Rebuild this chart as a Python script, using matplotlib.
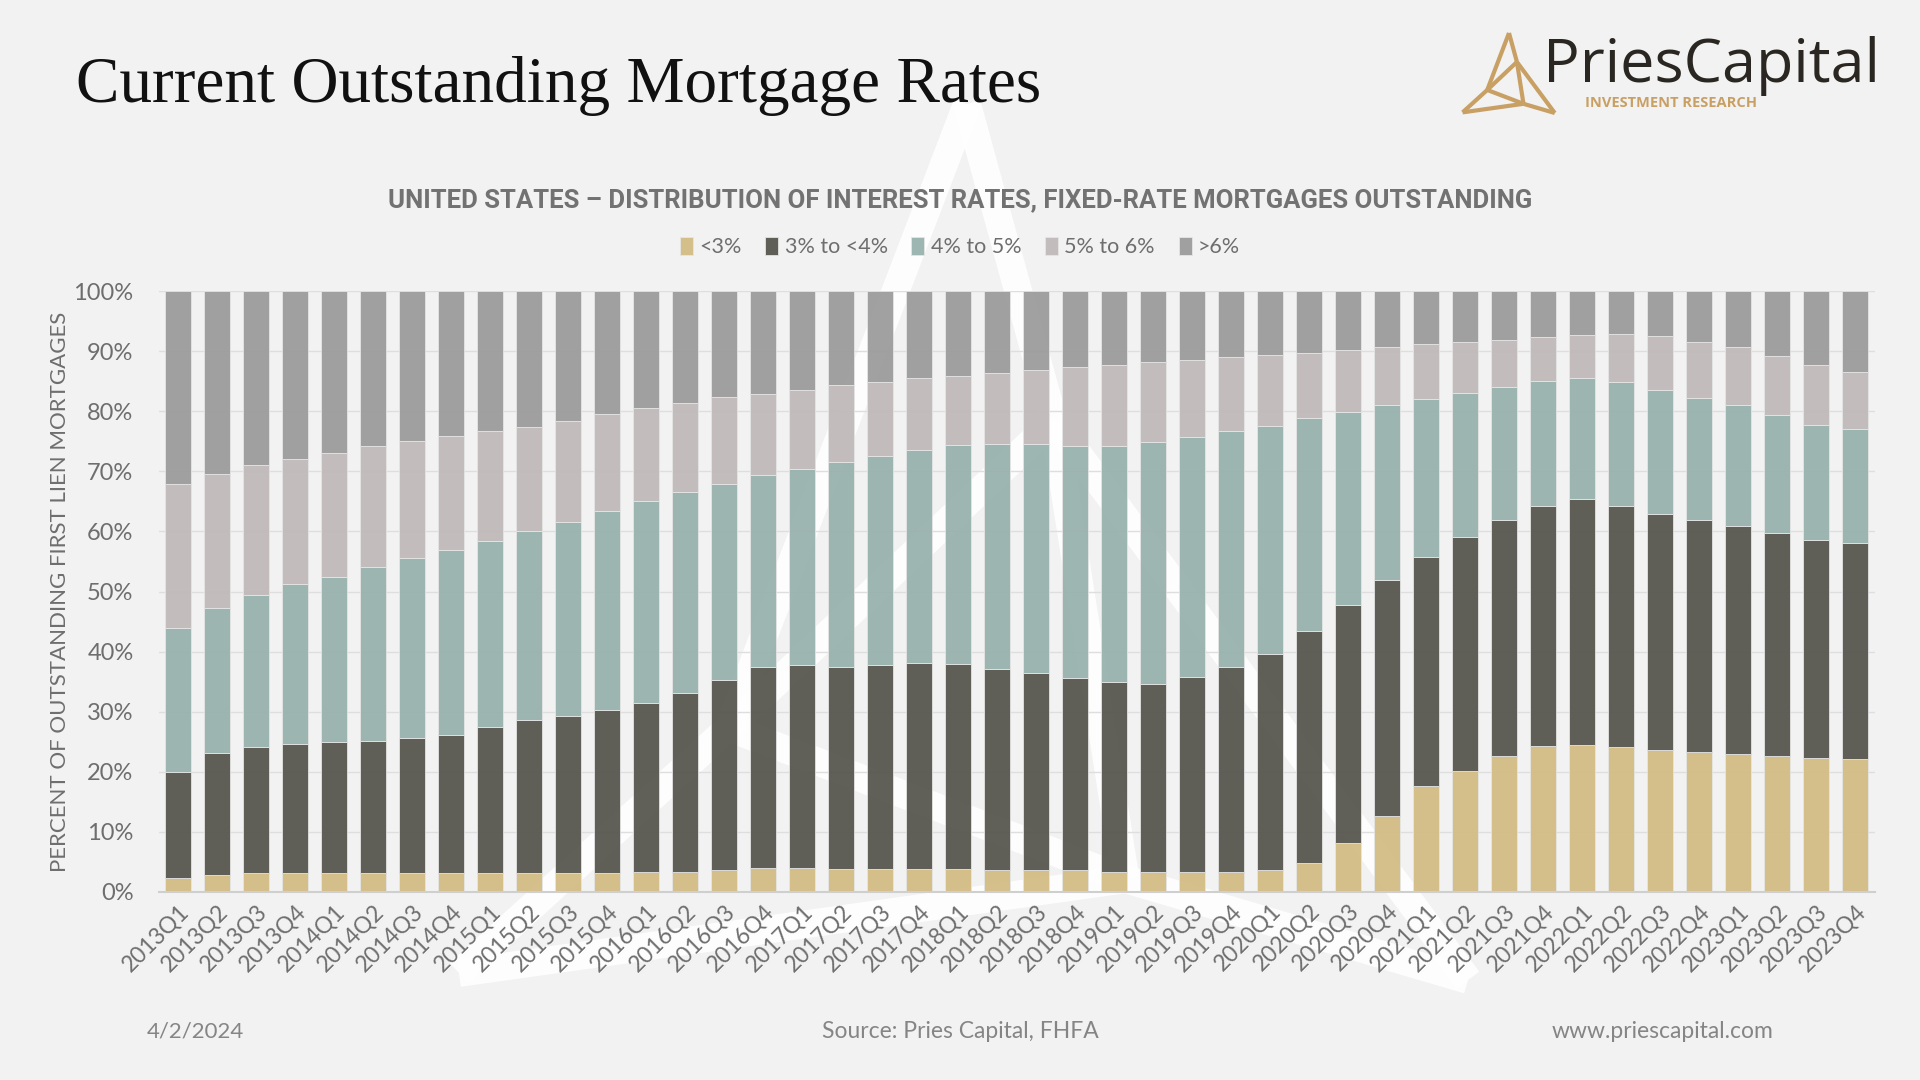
import numpy as np
import matplotlib.pyplot as plt
from matplotlib.lines import Line2D

quarters = [f"{y}Q{q}" for y in range(2013, 2024) for q in range(1, 5)]

under_3 = [2.4, 2.9, 3.1, 3.1, 3.1, 3.1, 3.1, 3.1, 3.2, 3.2, 3.2, 3.2, 3.4, 3.4, 3.7, 4.0,
           4.0, 3.9, 3.9, 3.9, 3.8, 3.7, 3.6, 3.6, 3.4, 3.4, 3.4, 3.4, 3.6, 4.9, 8.2, 12.7,
           17.7, 20.1, 22.7, 24.3, 24.5, 24.1, 23.7, 23.3, 23.0, 22.7, 22.3, 22.1]
from_3_to_4 = [17.5, 20.2, 21.1, 21.6, 21.9, 22.1, 22.5, 23.0, 24.2, 25.5, 26.1, 27.1, 28.0, 29.7, 31.6, 33.4,
               33.7, 33.6, 33.9, 34.2, 34.1, 33.4, 32.8, 32.0, 31.5, 31.2, 32.3, 34.0, 36.0, 38.6, 39.5, 39.2,
               38.1, 38.9, 39.2, 39.9, 40.9, 40.1, 39.2, 38.6, 37.9, 37.1, 36.3, 36.0]
from_4_to_5 = [24.1, 24.1, 25.3, 26.5, 27.4, 28.8, 29.9, 30.8, 31.0, 31.3, 32.2, 33.1, 33.6, 33.4, 32.6, 32.0,
               32.7, 34.0, 34.8, 35.5, 36.5, 37.5, 38.2, 38.6, 39.3, 40.2, 40.0, 39.3, 38.0, 35.3, 32.2, 29.2,
               26.3, 24.0, 22.2, 20.9, 20.1, 20.7, 20.7, 20.3, 20.2, 19.6, 19.1, 18.9]
from_5_to_6 = [23.9, 22.4, 21.5, 20.9, 20.7, 20.2, 19.6, 18.9, 18.3, 17.4, 16.9, 16.2, 15.5, 14.9, 14.4, 13.5,
               13.2, 12.8, 12.3, 11.9, 11.5, 11.8, 12.3, 13.2, 13.5, 13.4, 12.9, 12.3, 11.7, 10.9, 10.2, 9.6,
               9.0, 8.5, 7.8, 7.3, 7.2, 7.9, 8.9, 9.3, 9.6, 9.8, 10.0, 9.6]
over_6 = [32.1, 30.4, 29.0, 27.9, 26.9, 25.8, 24.9, 24.2, 23.3, 22.6, 21.6, 20.4, 19.5, 18.6, 17.7, 17.1,
          16.4, 15.7, 15.1, 14.5, 14.1, 13.6, 13.1, 12.6, 12.3, 11.8, 11.4, 11.0, 10.7, 10.3, 9.9, 9.3,
          8.9, 8.5, 8.1, 7.6, 7.3, 7.2, 7.5, 8.5, 9.3, 10.8, 12.3, 13.4]

series_names = ["<3%", "3% to <4%", "4% to 5%", "5% to 6%", ">6%"]
colors = ["#D3BC85", "#57564F", "#99B2AE", "#C0B9B9", "#9C9C9C"]

bg = "#F2F2F2"
fig = plt.figure(figsize=(19.2, 10.8), dpi=100, facecolor=bg)

# logo shape (apex at 0,0, height 1, y pointing down)
logo_pts = {"A": (0, 0), "B": (0.099, 0.362), "C": (-0.272, 0.712),
            "D": (0.181, 0.885), "L": (-0.58, 0.992), "R": (0.572, 1.0)}
logo_segs = ["AC", "CL", "AB", "BR", "LD", "DR", "CB", "CD", "BD"]


def draw_logo(x0, y0, h, color, lw, alpha=1.0, z=0):
    for s in logo_segs:
        (xa, ya), (xb, yb) = logo_pts[s[0]], logo_pts[s[1]]
        xs = [(x0 + xa * h) / 1920, (x0 + xb * h) / 1920]
        ys = [1 - (y0 + ya * h) / 1080, 1 - (y0 + yb * h) / 1080]
        fig.add_artist(Line2D(xs, ys, color=color, lw=lw, alpha=alpha,
                              solid_capstyle="butt", solid_joinstyle="miter", zorder=z))


# big watermark behind the chart
draw_logo(967, 104, 876, "white", 20, alpha=0.9, z=0)

ax = fig.add_axes([158.5 / 1920, 1 - 892 / 1080, (1874.5 - 158.5) / 1920, (892 - 291) / 1080])
ax.set_facecolor("none")
ax.set_zorder(2)

x = np.arange(len(quarters))
bottom = np.zeros(len(quarters))
for name, vals, c in zip(series_names, [under_3, from_3_to_4, from_4_to_5, from_5_to_6, over_6], colors):
    vals = np.array(vals)
    ax.bar(x, vals, bottom=bottom, width=0.67, color=c, alpha=0.95, edgecolor="#E6E6E6",
           linewidth=0.6, label=name, zorder=3)
    bottom += vals

ax.set_xlim(-0.5, len(quarters) - 0.5)
ax.set_ylim(0, 100)
ax.set_yticks(np.arange(0, 101, 10))
ax.set_yticklabels([f"{v}%" for v in range(0, 101, 10)], fontsize=17, color="#6E6E6E", family="Lato")
ax.set_xticks(x)
ax.set_xticklabels(quarters, rotation=45, ha="right", va="top", rotation_mode="anchor",
                   fontsize=16.5, color="#6E6E6E", family="Lato")
ax.tick_params(axis="both", length=0)
ax.tick_params(axis="y", pad=18)
ax.tick_params(axis="x", pad=6)
ax.grid(axis="y", color="#DEDEDE", linewidth=1, zorder=0)
ax.set_axisbelow(True)
for sp in ["top", "right", "left"]:
    ax.spines[sp].set_visible(False)
ax.spines["bottom"].set_color("#CFCFCF")
ax.spines["bottom"].set_linewidth(1.5)
ax.spines["bottom"].set_zorder(4)

ax.set_ylabel("PERCENT OF OUTSTANDING FIRST LIEN MORTGAGES", fontsize=16, color="#6E6E6E",
              family="Lato")
ax.yaxis.set_label_coords(-88 / (1874.5 - 158.5), 0.5)

# titles
fig.text(76 / 1920, 1 - 86 / 1080, "Current Outstanding Mortgage Rates", fontsize=47,
         family="Liberation Serif", color="#111111", va="center", ha="left")
fig.text(0.5, 1 - 200 / 1080,
         "UNITED STATES – DISTRIBUTION OF INTEREST RATES, FIXED-RATE MORTGAGES OUTSTANDING",
         fontsize=18.5, fontweight="bold", color="#727272", family="Roboto", ha="center", va="center")

handles, labels = ax.get_legend_handles_labels()
leg = fig.legend(handles, labels, loc="center", bbox_to_anchor=(0.5, 1 - 247 / 1080), ncol=5,
                 frameon=False, handlelength=0.6, handleheight=0.9, handletextpad=0.3,
                 columnspacing=1.1, prop={"family": "Lato", "size": 15.5})
for t in leg.get_texts():
    t.set_color("#6E6E6E")

# logo
draw_logo(1509, 33, 80, "#C9A064", 3, z=5)
fig.text(1543 / 1920, 1 - 66 / 1080, "PriesCapital", fontsize=44, family="Open Sans",
         color="#2A2621", ha="left", va="center")
fig.text(1585 / 1920, 1 - 103 / 1080, "INVESTMENT RESEARCH", fontsize=10.5, family="Open Sans",
         fontweight="bold", color="#C9A064", ha="left", va="center")

# footer
fig.text(147 / 1920, 1 - 1031 / 1080, "4/2/2024", fontsize=16, color="#858585", family="Lato",
         va="center", ha="left")
fig.text(0.5, 1 - 1031 / 1080, "Source: Pries Capital, FHFA", fontsize=16.5, color="#858585",
         family="Lato", va="center", ha="center")
fig.text(1773 / 1920, 1 - 1031 / 1080, "www.priescapital.com", fontsize=16.5, color="#858585",
         family="Lato", va="center", ha="right")

fig.savefig("out.png", dpi=100, facecolor=bg)
